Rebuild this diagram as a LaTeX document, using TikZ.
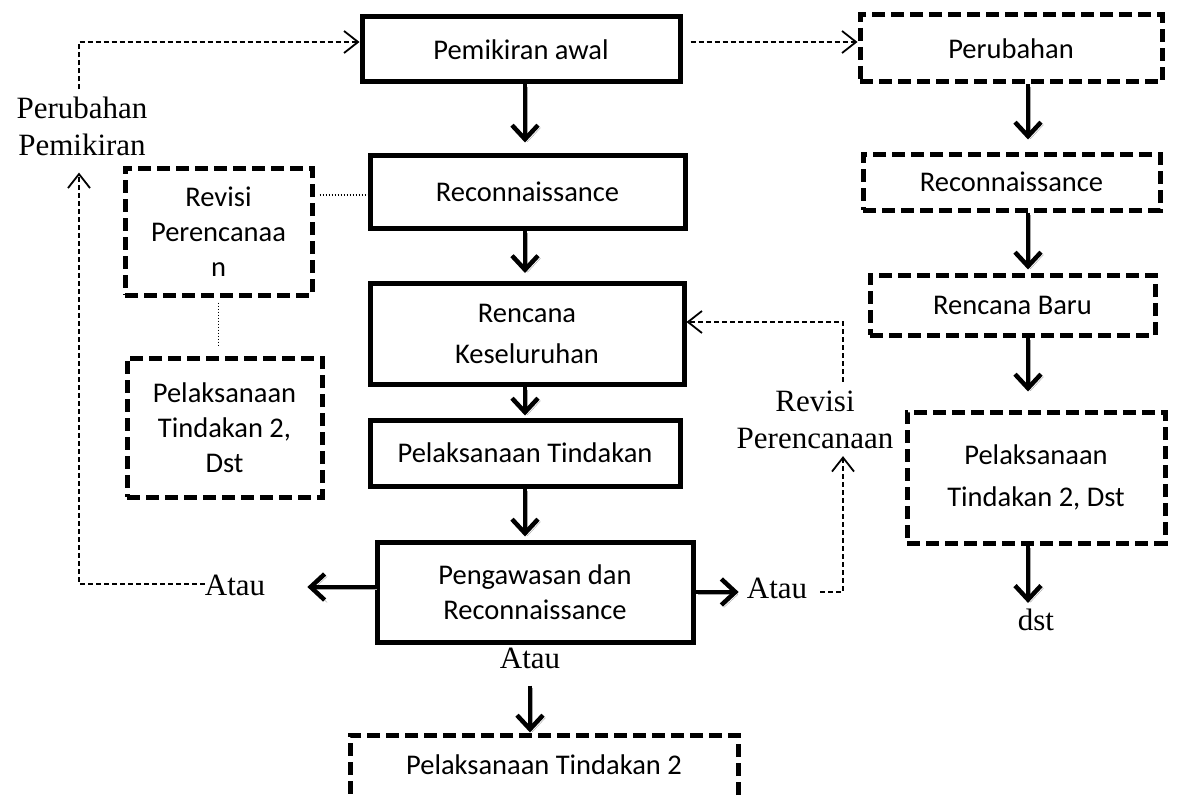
\documentclass[tikz,border=0pt]{standalone}
\usepackage{fontspec}
\setmainfont{Liberation Serif}
\newfontfamily\boxfont{Carlito}
\usetikzlibrary{arrows.meta,calc}
\begin{document}
\begin{tikzpicture}[x=1pt,y=-1pt,
  solidbox/.style={draw, line width=5pt, inner sep=0pt, font=\boxfont\fontsize{28.5}{35}\selectfont, align=center},
  dashbox/.style={solidbox, dash pattern=on 13pt off 6pt},
  boxtext/.style={inner sep=0pt, font=\boxfont\fontsize{28.5}{35}\selectfont, align=center},
  lbl/.style={font=\fontsize{31}{37}\selectfont, align=center, inner sep=0pt},
  bigarrow/.style={line width=4.5pt, -{Straight Barb[length=14pt,width=26pt]},
    preaction={draw=black!35, transform canvas={shift={(2.5pt,-2.5pt)}}}},
  thinarrow/.style={line width=1.8pt, dash pattern=on 5pt off 3pt, -{Straight Barb[length=14pt,width=22pt]}},
  dotline/.style={line width=1.4pt, dash pattern=on 1.4pt off 1.6pt},
]
\useasboundingbox (0,0) rectangle (1195,800);
\fill[white] (0,0) rectangle (1195,800);
\clip (0,0) rectangle (1195,800);

% main column
\node[solidbox, minimum width=318pt, minimum height=65pt] (pa) at (521,49.5) {Pemikiran awal};
\node[solidbox, minimum width=315pt, minimum height=73pt] (rec) at (527.5,191.5) {Reconnaissance};
\node[solidbox, minimum width=314pt, minimum height=101pt, font=\boxfont\fontsize{28.5}{41}\selectfont] (ren) at (527,334) {Rencana\\Keseluruhan};
\node[solidbox, minimum width=310pt, minimum height=66pt] (pel) at (525,453) {Pelaksanaan Tindakan};
\node[solidbox, minimum width=316pt, minimum height=100pt] (peng) at (535,592) {Pengawasan dan\\Reconnaissance};
\node[dashbox, minimum width=388pt, minimum height=90pt] (pt2) at (544,780) {};
\node[boxtext] (pt2t) at (544,765) {Pelaksanaan Tindakan 2};

% left column
\node[dashbox, minimum width=187pt, minimum height=127pt] (rev) at (218.5,231.5) {Revisi\\Perencanaa\\n};
\node[dashbox, minimum width=195pt, minimum height=139pt] (ptl) at (224.5,427.5) {Pelaksanaan\\Tindakan 2,\\Dst};

% right column
\node[dashbox, minimum width=302pt, minimum height=67pt] (per) at (1011,48.5) {Perubahan};
\node[dashbox, minimum width=297pt, minimum height=56pt] (recb) at (1011.5,182) {Reconnaissance};
\node[dashbox, minimum width=285pt, minimum height=60pt] (rb) at (1012.5,305) {Rencana Baru};
\node[dashbox, minimum width=258pt, minimum height=131pt, font=\boxfont\fontsize{28.5}{42}\selectfont] (ptr) at (1036,477.5) {Pelaksanaan\\Tindakan 2, Dst};

% labels
\node[lbl] (pp) at (82,126) {Perubahan\\Pemikiran};
\node[lbl] (atauL) at (235,585) {Atau};
\node[lbl] (atauR) at (777,588) {Atau};
\node[lbl] (atauB) at (530,658) {Atau};
\node[lbl] (rp) at (815,420) {Revisi\\Perencanaan};
\node[lbl] (dst) at (1036,620) {dst};

% helper coordinates
\coordinate (colA) at (525,0);
\coordinate (colB) at (1028,0);
\coordinate (d1) at (79,42);
\coordinate (d2) at (79,584);
\coordinate (d4) at (843,592);
\coordinate (d5) at (843,322);
\coordinate (d6) at (0,195);
\coordinate (l5) at ($(peng.west)+(0,-5)$);

% thick arrows main column
\draw[bigarrow, shorten >=10pt] (pa.south -| colA) -- (rec.north -| colA);
\draw[bigarrow, shorten >=8pt] (rec.south -| colA) -- (ren.north -| colA);
\draw[bigarrow, shorten >=2pt] (ren.south -| colA) -- (pel.north -| colA);
\draw[bigarrow, shorten >=3pt] (pel.south -| colA) -- (peng.north -| colA);
\draw[bigarrow, shorten >=42pt] (l5) -- (l5 -| atauL.east);
\draw[bigarrow, shorten >=8pt] (peng.east) -- (peng.east -| atauR.west);
\draw[bigarrow, shorten <=17pt] (atauB.south) -- (atauB.south |- pt2.north);

% thick arrows right column
\draw[bigarrow, shorten >=12pt] (per.south -| colB) -- (recb.north -| colB);
\draw[bigarrow, shorten >=3pt] (recb.south -| colB) -- (rb.north -| colB);
\draw[bigarrow, shorten >=18pt] (rb.south -| colB) -- (ptr.north -| colB);
\draw[bigarrow, shorten >=6pt] (ptr.south -| colB) -- (dst.north -| colB);

% thin dashed arrows
\draw[thinarrow, shorten <=7pt] (pp.north -| d1) -- (d1) -- (d1 -| pa.west);
\draw[thinarrow, shorten >=17pt] (atauL.west |- d2) -- (d2) -- (d2 |- pp.south);
\draw[thinarrow, shorten <=8pt] (pa.east |- d1) -- (d1 -| per.west);
\draw[thinarrow, shorten <=13pt, shorten >=7pt] (atauR.east |- d4) -- (d4) -- (d4 |- rp.south);
\draw[thinarrow, shorten <=9pt] (d5 |- rp.north) -- (d5) -- (d5 -| ren.east);

% dotted links
\draw[dotline, shorten <=5pt] (rev.east |- d6) -- (rec.west |- d6);
\draw[dotline, shorten <=5pt, shorten >=10pt] (rev.south) -- (rev.south |- ptl.north);
\end{tikzpicture}
\end{document}
